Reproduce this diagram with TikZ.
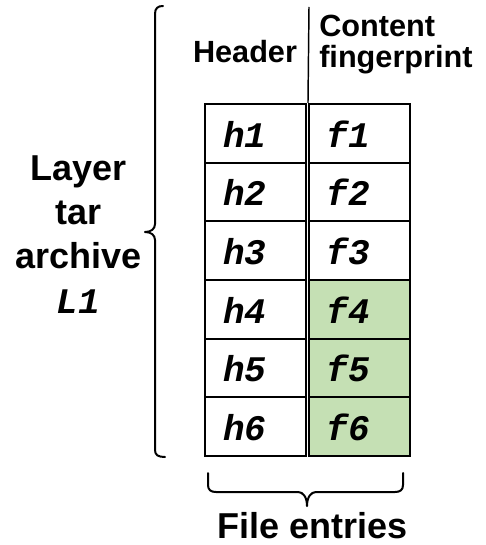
\documentclass[tikz,border=0pt]{standalone}
\usepackage{fontspec}
\setmainfont{Liberation Sans}
\newfontfamily\codefont{Liberation Mono}
\definecolor{entrygreen}{HTML}{C5E0B4}
\begin{document}
\begin{tikzpicture}[x=0.75pt,y=-0.75pt,
  cell/.style={draw, line width=1.5pt, inner sep=0pt,
    minimum height=44pt, text height=20.5pt, text depth=0pt,
    font=\codefont\fontsize{27}{30}\selectfont\bfseries\itshape},
  hcell/.style={cell, minimum width=75.75pt},
  fcell/.style={cell, minimum width=75.4pt},
  marked/.style={fill=entrygreen},
  heading/.style={font=\bfseries\fontsize{23}{23.25}\selectfont, inner sep=0pt},
  biglabel/.style={font=\bfseries\fontsize{27}{33.2}\selectfont, inner sep=0pt},
  bracket/.style={line width=1.5pt, line cap=round, line join=round}]
\useasboundingbox (0,0) rectangle (485,545);

% file entry table: header column and content fingerprint column
\foreach \i in {1,...,6}{
  \node[hcell] (h\i) at (255.5,{104+58.67*(\i-0.5)}) {h\i\phantom{0}};
}
\foreach \i in {1,2,3}{
  \node[fcell] (f\i) at (359.25,{104+58.67*(\i-0.5)}) {f\i\phantom{0}};
}
\foreach \i in {4,5,6}{
  \node[fcell,marked] (f\i) at (359.25,{104+58.67*(\i-0.5)}) {f\i\phantom{0}};
}

% column headings and the divider between them
\node[heading, anchor=base] (hdr) at (245,63) {Header};
\node[heading, anchor=base west] (cnt) at (319,37) {Content};
\node[heading, anchor=base west] (fpr) at (319,68) {fingerprint};
\coordinate (divtop) at (309,7);
\draw[line width=1.1pt] (divtop) -- (f1.north west);

% archive label with its brace (base anchor sits on the last line)
\node[biglabel, align=center, anchor=base] (layer) at (78.5,313)
  {Layer\\tar\\archive\\{\codefont\bfseries\itshape L1}};
\draw[bracket] (163,6) .. controls (158,6) and (155,8) .. (155,14)
  -- (155,224) .. controls (155,229) and (151,232) .. (145,232)
  .. controls (151,232) and (155,235) .. (155,240)
  -- (155,450) .. controls (155,455) and (158,457) .. (165,457);

% file entries label with its brace
\draw[bracket] (208,473) -- (208,485) .. controls (208,490) and (211,492) .. (216,492)
  -- (298,492) .. controls (303,492) and (307,497) .. (307,506)
  .. controls (307,497) and (311,492) .. (316,492)
  -- (395,492) .. controls (400,492) and (403,490) .. (403,485) -- (403,473);
\node[biglabel, anchor=base] (entries) at (313,538) {File entries};
\end{tikzpicture}
\end{document}
